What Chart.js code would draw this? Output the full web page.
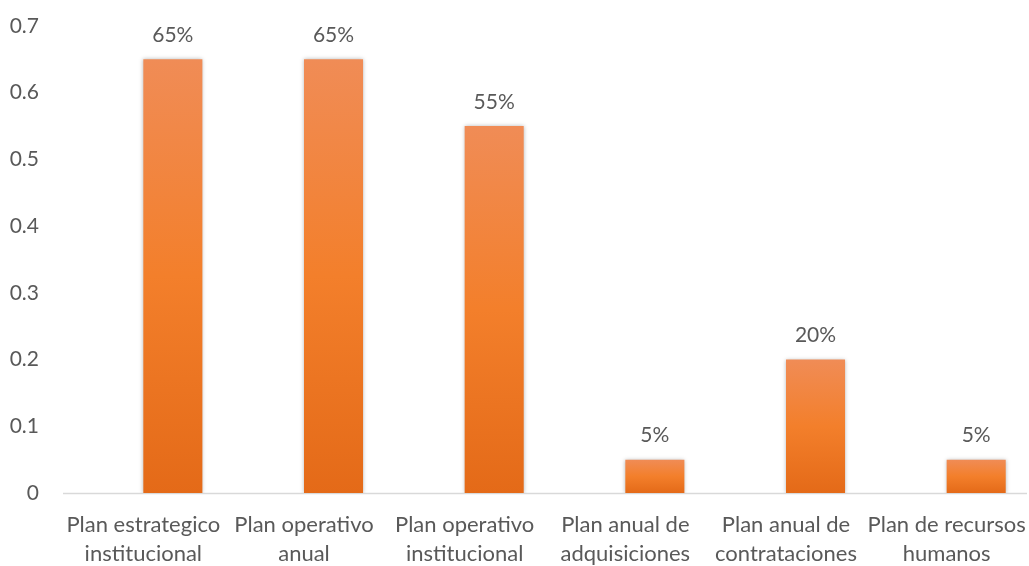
<!DOCTYPE html>
<html>
<head>
<meta charset="utf-8">
<script src="https://cdn.jsdelivr.net/npm/chart.js@4/dist/chart.umd.min.js"></script>
<style>
  html, body { margin: 0; padding: 0; background: #fff; overflow: hidden; }
</style>
</head>
<body>
<canvas id="grafico" width="1029" height="566"></canvas>
<script>
const categorias = [
  ['Plan estrategico', 'institucional'],
  ['Plan operativo', 'anual'],
  ['Plan operativo', 'institucional'],
  ['Plan anual de', 'adquisiciones'],
  ['Plan anual de', 'contrataciones'],
  ['Plan de recursos', 'humanos']
];
const valores = [0.65, 0.65, 0.55, 0.05, 0.20, 0.05];
// la serie vacia del original (desplaza las barras a la derecha, como en Excel)
const serieVacia = [null, null, null, null, null, null];
const ticksY = [0, 0.1, 0.2, 0.3, 0.4, 0.5, 0.6, 0.7];

const fuente = 'Lato, "Liberation Sans", sans-serif';
const gris = '#595959';

function degradado(context) {
  const chart = context.chart;
  const area = chart.chartArea;
  if (!area || context.raw == null) return '#F27E2E';
  const y = chart.scales.y;
  const top = y.getPixelForValue(context.raw);
  const base = y.getPixelForValue(0);
  const g = chart.ctx.createLinearGradient(0, top, 0, base);
  g.addColorStop(0, '#F08C56');
  g.addColorStop(0.5, '#F37F2B');
  g.addColorStop(1, '#E46A18');
  return g;
}

const sombra = {
  id: 'sombra',
  beforeDatasetDraw(chart) {
    const ctx = chart.ctx;
    ctx.save();
    ctx.shadowColor = 'rgba(0,0,0,0.28)';
    ctx.shadowBlur = 4;
    ctx.shadowOffsetX = 0;
    ctx.shadowOffsetY = 0;
  },
  afterDatasetDraw(chart) {
    chart.ctx.restore();
  }
};

const etiquetas = {
  id: 'etiquetas',
  afterDatasetsDraw(chart) {
    const ctx = chart.ctx;
    const meta = chart.getDatasetMeta(1);
    ctx.save();
    ctx.font = '21px ' + fuente;
    ctx.fillStyle = gris;
    ctx.textAlign = 'center';
    ctx.textBaseline = 'middle';
    meta.data.forEach((bar, i) => {
      ctx.fillText(Math.round(valores[i] * 100) + '%', bar.x, bar.y - 24);
    });
    ctx.restore();
  }
};

const ejeX = {
  id: 'ejeX',
  beforeDatasetsDraw(chart) {
    const a = chart.chartArea;
    const ctx = chart.ctx;
    ctx.save();
    ctx.strokeStyle = '#D9D9D9';
    ctx.lineWidth = 1.5;
    ctx.beginPath();
    ctx.moveTo(a.left, a.bottom + 0.5);
    ctx.lineTo(a.right, a.bottom + 0.5);
    ctx.stroke();
    ctx.restore();
  }
};

new Chart(document.getElementById('grafico').getContext('2d'), {
  type: 'bar',
  data: {
    labels: categorias,
    datasets: [{
      label: '',
      data: serieVacia,
      backgroundColor: 'rgba(0,0,0,0)'
    }, {
      label: 'Porcentaje',
      data: valores,
      backgroundColor: degradado,
      borderWidth: 0
    }]
  },
  options: {
    responsive: false,
    animation: false,
    layout: { padding: { top: 26, right: 2, left: 0, bottom: 0 } },
    datasets: {
      bar: { categoryPercentage: 0.735, barPercentage: 1.0 }
    },
    scales: {
      x: {
        grid: { display: false, drawTicks: false },
        border: { display: false },
        ticks: {
          color: gris,
          font: { family: fuente, size: 22, lineHeight: 1.32 },
          padding: 17,
          maxRotation: 0,
          autoSkip: false
        },
        afterFit: s => {
          s.height = 73;
          s.paddingLeft = 0;
          s.paddingRight = 0;
        }
      },
      y: {
        min: 0,
        max: 0.7,
        grid: { display: false, drawTicks: false },
        border: { display: false },
        afterBuildTicks: s => { s.ticks = ticksY.map(v => ({ value: v })); },
        ticks: {
          color: gris,
          font: { family: fuente, size: 21 },
          padding: 24,
          callback: v => String(Math.round(v * 10) / 10)
        },
        afterFit: s => {
          s.width = 63;
          s.paddingTop = 0;
          s.paddingBottom = 0;
        }
      }
    },
    plugins: {
      legend: { display: false },
      tooltip: { enabled: false }
    }
  },
  plugins: [ejeX, sombra, etiquetas]
});
</script>
</body>
</html>
